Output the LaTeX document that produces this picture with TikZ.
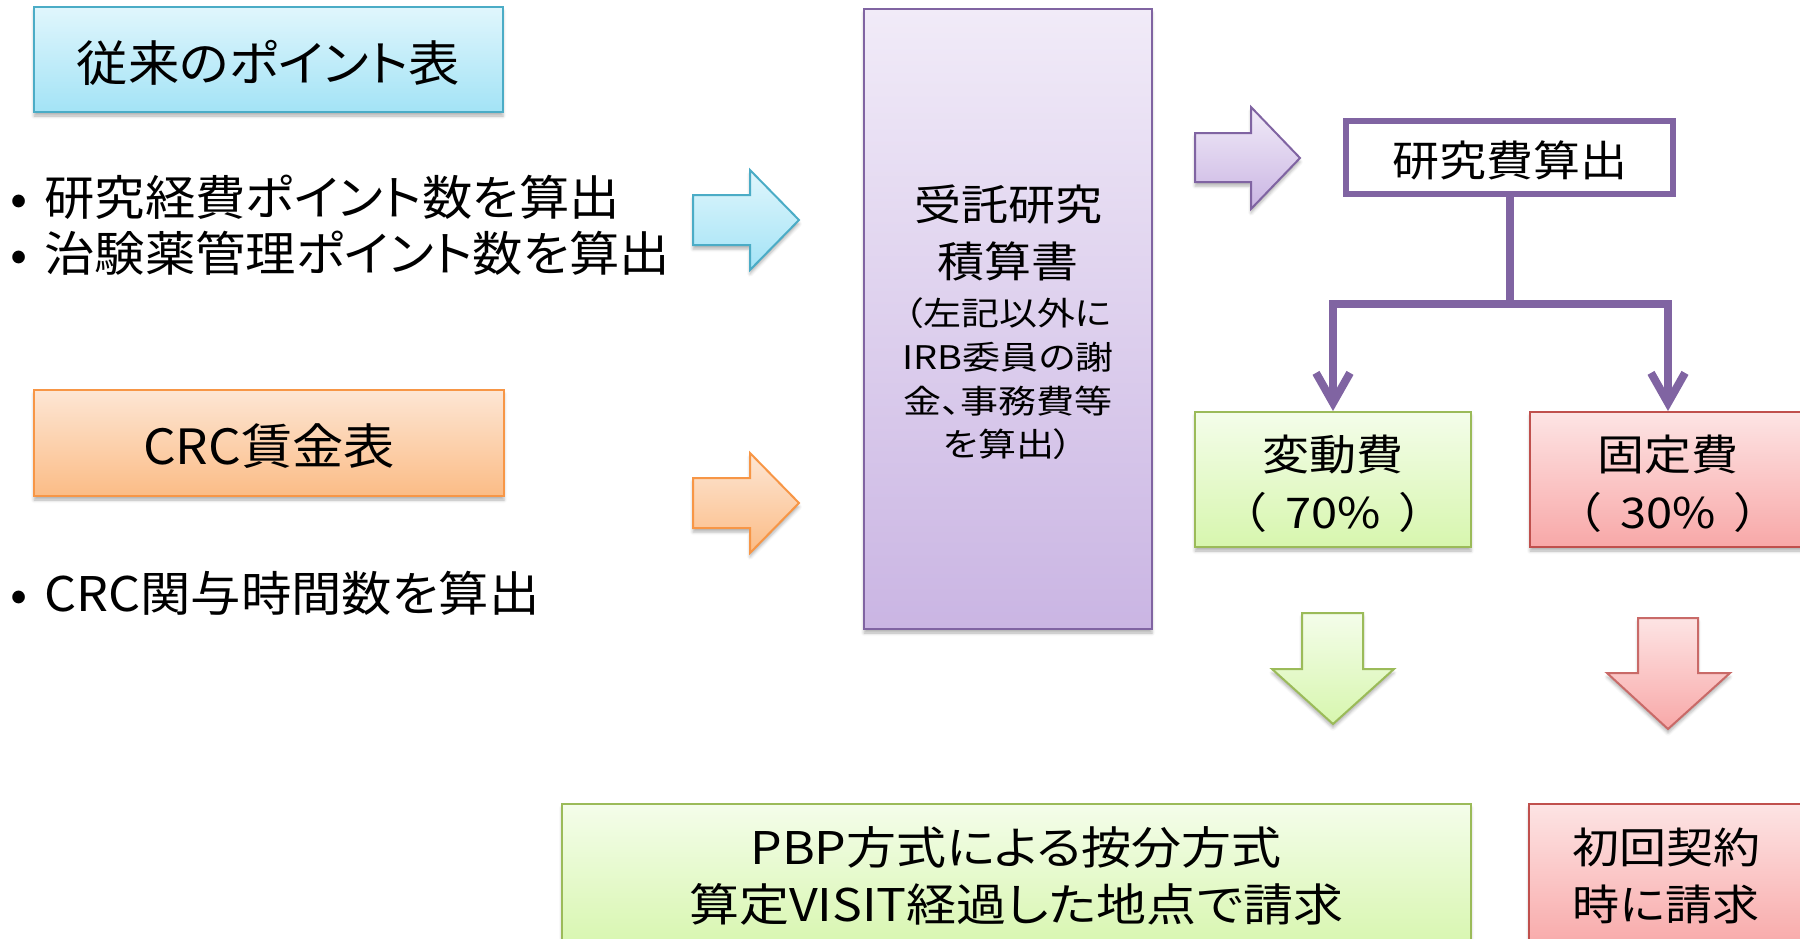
\documentclass[tikz,border=0pt]{standalone}
\usepackage{fontspec}
\setmainfont{Noto Sans CJK JP}[RawFeature=+palt]
\usetikzlibrary{arrows.meta,shadows.blur}
\definecolor{blueT}{HTML}{E0F6FC}
\definecolor{blueB}{HTML}{A3E3F6}
\definecolor{blueL}{HTML}{4BACC6}
\definecolor{orT}{HTML}{FDE6D4}
\definecolor{orB}{HTML}{FBBC86}
\definecolor{orL}{HTML}{F79646}
\definecolor{puT}{HTML}{F1EBF8}
\definecolor{puB}{HTML}{CAB5E3}
\definecolor{puL}{HTML}{8064A2}
\definecolor{grT}{HTML}{F4FDEA}
\definecolor{grB}{HTML}{D7F6AE}
\definecolor{grL}{HTML}{9BBB59}
\definecolor{reT}{HTML}{FDE4E4}
\definecolor{reB}{HTML}{F8A8A8}
\definecolor{reL}{HTML}{C0504D}
\newcommand\fsz[2]{\fontsize{#1}{#2}\selectfont}
\begin{document}
\begin{tikzpicture}[x=1pt,y=-1pt,
  shd/.style={blur shadow={shadow xshift=0pt,shadow yshift=-4pt,shadow blur radius=3pt,shadow opacity=30}},
  bx/.style={rectangle,inner sep=0pt,line width=2pt,shd},
  txt/.style={inner sep=0pt,yscale=0.9,align=center,text=black},
  big/.style={txt,xscale=0.95},
  barrow/.style={line width=2pt,line join=miter,shd},
  conn/.style={draw=puL,line width=8pt,line join=miter},
  arr/.style={-{Straight Barb[length=30pt,width=34pt]}}]
\useasboundingbox (0,0) rectangle (1800,938);
\clip (0,0) rectangle (1800,938);

% boxes
\node[bx,minimum width=469pt,minimum height=105pt,draw=blueL,top color=blueT,bottom color=blueB] (pts) at (268.5,59.5) {};
\node[bx,minimum width=470pt,minimum height=106pt,draw=orL,top color=orT,bottom color=orB] (crc) at (269,443) {};
\node[bx,minimum width=288pt,minimum height=620pt,draw=puL,top color=puT,bottom color=puB] (est) at (1008,319) {};
\node[rectangle,inner sep=0pt,minimum width=327pt,minimum height=73pt,draw=puL,line width=6pt,fill=white] (calc) at (1509.5,157.5) {};
\node[bx,minimum width=276pt,minimum height=135pt,draw=grL,top color=grT,bottom color=grB] (var) at (1333,479.5) {};
\node[bx,minimum width=276pt,minimum height=135pt,draw=reL,top color=reT,bottom color=reB] (fix) at (1668,479.5) {};
\node[bx,minimum width=909pt,minimum height=146pt,draw=grL,top color=grT,bottom color=grB] (pbp) at (1016.5,877) {};
\node[bx,minimum width=277pt,minimum height=146pt,draw=reL,top color=reT,bottom color=reB] (init) at (1667.5,877) {};

% block arrows
\path[barrow,draw=blueL,top color=blueT,bottom color=blueB]
  (693,195) -- (750,195) -- (750,170) -- (799,220) -- (750,270) -- (750,245) -- (693,245) -- cycle;
\path[barrow,draw=orL,top color=orT,bottom color=orB]
  (693,478) -- (750,478) -- (750,453) -- (799,503) -- (750,553) -- (750,528) -- (693,528) -- cycle;
\path[barrow,draw=puL,top color=puT,bottom color=puB]
  (1195,133) -- (1251,133) -- (1251,107) -- (1300,158) -- (1251,209) -- (1251,182) -- (1195,182) -- cycle;
\path[barrow,draw=grL,top color=grT,bottom color=grB]
  (1302,613) -- (1363,613) -- (1363,669) -- (1394,669) -- (1333,724) -- (1272,669) -- (1302,669) -- cycle;
\path[barrow,draw=reL!85,top color=reT,bottom color=reB]
  (1638,618) -- (1698,618) -- (1698,673) -- (1730,673) -- (1668,729) -- (1607,673) -- (1638,673) -- cycle;

% connectors
\coordinate (split) at (1509.5,304);
\draw[conn] (calc.south) -- (split);
\draw[conn,arr] (split) -| (var.north);
\draw[conn,arr] (split) -| (fix.north);

% texts
\node[big,font=\fsz{54}{60}] (tpts) at (268.5,63) {従来のポイント表};
\node[big,font=\fsz{54}{60}] (tcrc) at (269,446) {CRC賃金表};
\node[big,anchor=west,font=\fsz{53}{60}] (b1) at (10,197) {\makebox[36pt][l]{•}研究経費ポイント数を算出};
\node[big,anchor=west,font=\fsz{53}{60}] (b2) at (10,253) {\makebox[36pt][l]{•}治験薬管理ポイント数を算出};
\node[big,anchor=west,font=\fsz{53}{60}] (b3) at (10,593) {\makebox[36pt][l]{•}CRC関与時間数を算出};
\node[txt,font=\fsz{47}{64}] (test1) at (1008,233) {受託研究\\積算書};
\node[txt,yscale=0.95,font=\fsz{38}{51}] (test2) at (1008,379) {（左記以外に\\IRB委員の謝\\金、事務費等\\を算出）};
\node[txt,font=\fsz{47}{60}] (tcalc) at (1509.5,160) {研究費算出};
\node[txt,font=\fsz{47}{64}] (tvar) at (1333,484) {変動費\\（\hspace{19pt}70\%\hspace{19pt}）};
\node[txt,font=\fsz{47}{64}] (tfix) at (1668,484) {固定費\\（\hspace{19pt}30\%\hspace{19pt}）};
\node[txt,font=\fsz{50}{64}] (tpbp) at (1016,876) {PBP方式による按分方式\\算定VISIT経過した地点で請求};
\node[txt,font=\fsz{47}{64}] (tinit) at (1666,876) {初回契約\\時に請求};
\end{tikzpicture}
\end{document}
